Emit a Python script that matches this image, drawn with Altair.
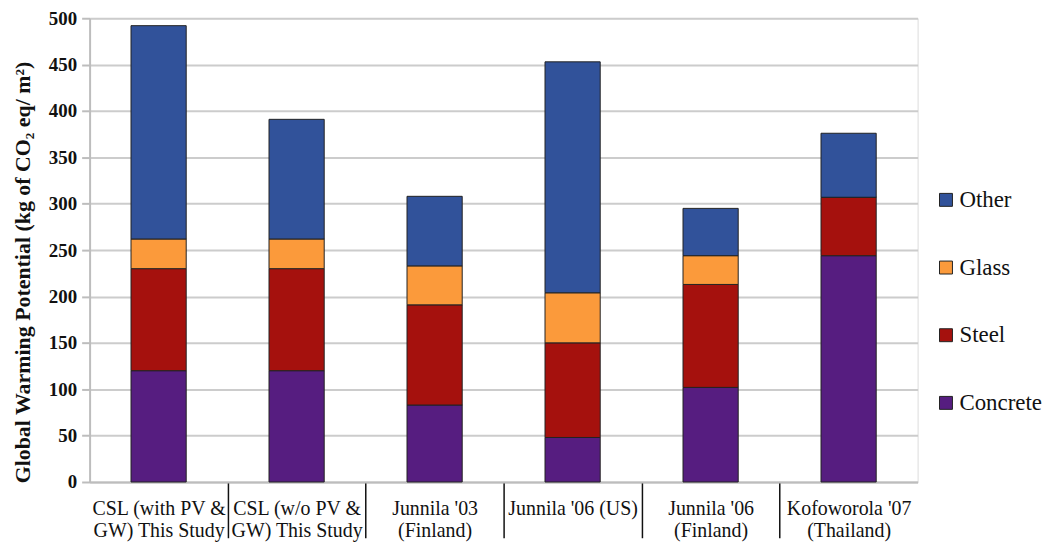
import altair as alt
import pandas as pd

studies = [
    "CSL (with PV &|GW) This Study",
    "CSL (w/o PV &|GW) This Study",
    "Junnila '03|(Finland)",
    "Junnila '06 (US)",
    "Junnila '06|(Finland)",
    "Kofoworola '07|(Thailand)",
]
materials = ["Concrete", "Steel", "Glass", "Other"]
concrete = [120, 120, 83, 48, 102, 244]
steel = [110, 110, 108, 102, 111, 63]
glass = [32, 32, 42, 54, 31, 0]
other = [230, 129, 75, 249, 51, 69]

colors = {"Other": "#31529a", "Glass": "#fb9a3b", "Steel": "#a5110d", "Concrete": "#561d80"}

rows = []
for i, s in enumerate(studies):
    for k, (m, vals) in enumerate(zip(materials, [concrete, steel, glass, other])):
        rows.append({"study": s, "material": m, "value": vals[i], "order": k})
df = pd.DataFrame(rows)

legend_order = ["Other", "Glass", "Steel", "Concrete"]

font = "Liberation Serif"
W = 832
H = 466
half_step = W / len(studies) / 2

chart = alt.Chart(df).mark_bar(stroke="#222222", strokeWidth=1).encode(
    x=alt.X(
        "study:N",
        sort=studies,
        title=None,
        scale=alt.Scale(paddingInner=0.6, paddingOuter=0.3),
        axis=alt.Axis(
            labelExpr="split(datum.label, '|')",
            labelAngle=0,
            labelFont=font,
            labelFontSize=20,
            labelColor="#111111",
            labelLineHeight=22,
            labelPadding=-39,
            labelBaseline="top",
            labelOffset=half_step,
            tickOffset=-half_step,
            tickSize=56,
            tickColor="#111111",
            tickWidth=1.5,
            tickOpacity={"condition": {"test": "datum.value === \"CSL (with PV &|GW) This Study\"", "value": 0}, "value": 1},
            domainColor="#bdbdbd",
            domainWidth=2,
            grid=False,
        ),
    ),
    y=alt.Y(
        "value:Q",
        stack="zero",
        title="Global Warming Potential (kg of CO\u2082 eq/ m\u00b2)",
        scale=alt.Scale(domain=[0, 500], nice=False),
        axis=alt.Axis(
            values=list(range(0, 501, 50)),
            labelFont=font,
            labelFontSize=19,
            labelFontWeight="bold",
            labelColor="#111111",
            labelPadding=5,
            titleFont=font,
            titleFontSize=22,
            titleFontWeight="bold",
            titleColor="#111111",
            titleX=-55,
            titleY=255,
            tickColor="#bdbdbd",
            tickSize=8,
            tickWidth=2,
            domainColor="#bdbdbd",
            domainWidth=2,
            gridColor="#cccccc",
            gridWidth=2,
        ),
    ),
    color=alt.Color(
        "material:N",
        scale=alt.Scale(domain=legend_order, range=[colors[m] for m in legend_order]),
        legend=alt.Legend(
            title=None,
            orient="none",
            legendX=849,
            legendY=171,
            symbolType="square",
            symbolSize=169,
            symbolStrokeColor="#222222",
            symbolStrokeWidth=1,
            labelFont=font,
            labelFontSize=23,
            labelColor="#111111",
            rowPadding=44,
            labelOffset=2,
        ),
    ),
    order=alt.Order("order:Q", sort="ascending"),
).properties(
    width=W,
    height=H,
    padding={"left": 3, "top": 0, "right": 0, "bottom": 0},
).configure_view(stroke=None).configure(background="white", font=font)

chart.save("out.html", embed_options={"renderer": "svg", "actions": False})
